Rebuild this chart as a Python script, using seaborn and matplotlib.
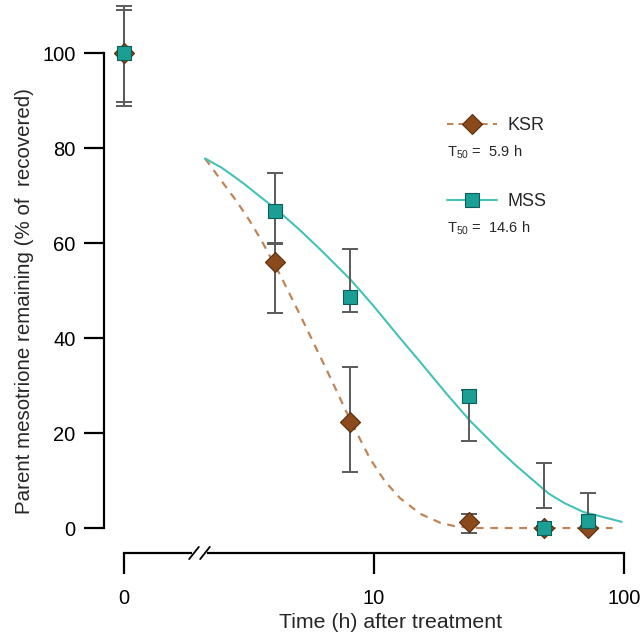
import numpy as np
import pandas as pd
import matplotlib
matplotlib.use("Agg")
import matplotlib.pyplot as plt
from matplotlib.lines import Line2D
import seaborn as sns

# ---------------- data ----------------
times = [0, 4, 8, 24, 48, 72]          # hours (0 h drawn at the axis origin "0")
ksr_mean = [100, 56, 22.3, 1.3, 0, 0]
ksr_err_low = [88.8, 45.3, 11.8, -1.0, -0.5, -0.5]
ksr_err_high = [109.9, 60.0, 34.0, 3.0, 0.5, 0.5]
mss_mean = [100, 66.8, 48.6, 27.8, 0, 1.5]
mss_err_low = [89.7, 59.8, 45.5, 18.3, 4.2, 0.0]
mss_err_high = [109.0, 74.7, 58.7, 29.0, 13.7, 7.4]

# fitted curves
ksr_fit_t = [2.11, 2.46, 2.82, 3.19, 3.55, 4.21, 4.75, 5.38, 5.90, 6.37, 6.98, 8.02,
             9.64, 11.07, 12.7, 15.3, 18.4, 21.4, 26, 40, 60, 90]
ksr_fit_y = [77.8, 73.0, 68.8, 64.6, 60.5, 53.3, 47.8, 42.0, 37.6, 34.0, 29.6, 22.8,
             14.6, 9.8, 6.3, 3.0, 1.1, 0.3, 0, 0, 0, 0]
mss_fit_t = [2.11, 2.45, 2.74, 3.05, 3.4, 3.8, 4.21, 5.06, 6.08, 8.02, 9.94, 12.7,
             15.0, 19.7, 24.2, 31.9, 36.7, 50.1, 58.0, 68.6, 97.9]
mss_fit_y = [77.8, 75.9, 74.1, 72.3, 70.3, 68.3, 66.4, 62.7, 58.7, 52.4, 46.8, 40.0,
             35.5, 28.0, 22.6, 16.3, 13.3, 7.2, 5.2, 3.4, 1.3]

series = ["KSR", "MSS"]
t50_labels = ["5.9 h", "14.6 h"]
x_tick_vals = [1, 10, 100]
x_tick_labels = ["0", "10", "100"]
y_ticks = [0, 20, 40, 60, 80, 100]

# ---------------- style ----------------
sns.set_style("ticks")
plt.rcParams["font.family"] = ["Liberation Sans", "DejaVu Sans"]
plt.rcParams["mathtext.fontset"] = "custom"
plt.rcParams["mathtext.rm"] = "Liberation Sans"

ksr_fill, ksr_edge, ksr_line = "#8a4a1c", "#5a2c0c", "#bf8558"
mss_fill, mss_edge, mss_line = "#1b9e94", "#0c5f58", "#45c2b6"
err_col = "#5a5a5a"

fig = plt.figure(figsize=(6.4, 6.38), dpi=100)
ax = fig.add_axes([104 / 640, (638 - 553) / 638, 535 / 640, 552 / 638])
ax.set_xscale("log")

plot_x = [1 if t == 0 else t for t in times]

df = pd.DataFrame({
    "x": plot_x * 2,
    "y": ksr_mean + mss_mean,
    "treatment": ["KSR"] * len(times) + ["MSS"] * len(times),
})
fit_ksr = pd.DataFrame({"t": ksr_fit_t, "y": ksr_fit_y})
fit_mss = pd.DataFrame({"t": mss_fit_t, "y": mss_fit_y})

# fitted curves
sns.lineplot(data=fit_ksr, x="t", y="y", ax=ax, color=ksr_line, lw=1.6,
             linestyle=(0, (3.5, 3.0)), sort=False, zorder=2)
sns.lineplot(data=fit_mss, x="t", y="y", ax=ax, color=mss_line, lw=1.5,
             sort=False, zorder=2)

# error bars
for lo, hi in [(ksr_err_low, ksr_err_high), (mss_err_low, mss_err_high)]:
    lo = np.array(lo); hi = np.array(hi)
    ax.errorbar(plot_x, (lo + hi) / 2, yerr=(hi - lo) / 2, fmt="none",
                ecolor=err_col, elinewidth=1.4, capsize=6, capthick=1.4, zorder=3)

# points
sns.scatterplot(data=df[df.treatment == "KSR"], x="x", y="y", ax=ax, marker="D",
                s=105, color=ksr_fill, edgecolor=ksr_edge, linewidth=0.8,
                zorder=4, clip_on=False, legend=False)
sns.scatterplot(data=df[df.treatment == "MSS"], x="x", y="y", ax=ax, marker="s",
                s=90, color=mss_fill, edgecolor=mss_edge, linewidth=0.8,
                zorder=5, clip_on=False, legend=False)

# axes
ax.set_xlim(10 ** -0.08, 10 ** 2.06)
ax.set_ylim(-5.26, 110.95)
ax.set_xticks(x_tick_vals)
ax.set_xticklabels(x_tick_labels)
ax.xaxis.set_minor_locator(matplotlib.ticker.NullLocator())
ax.set_yticks(y_ticks)
ax.spines["top"].set_visible(False)
ax.spines["right"].set_visible(False)
ax.spines["left"].set_bounds(0, 100)
ax.spines["bottom"].set_bounds(1, 100)
for s in ["left", "bottom"]:
    ax.spines[s].set_linewidth(1.6)
    ax.spines[s].set_color("black")
ax.tick_params(axis="y", length=14.5, width=1.6, labelsize=14.5, pad=6, colors="black")
ax.tick_params(axis="x", length=15, width=1.6, labelsize=14.5, pad=11, colors="black")

ax.set_xlabel("Time (h) after treatment", fontsize=15.3)
ax.set_ylabel("Parent mesotrione remaining (% of  recovered)", fontsize=14.8)
ax.xaxis.set_label_coords((391 - 104) / 535, (553 - 613) / 552)
ax.yaxis.set_label_coords((34 - 104) / 535, (553 - 301) / 552)

# axis break marks
tr = ax.transAxes
gx0, gx1 = (194 - 104) / 535, (205 - 104) / 535
ax.plot([gx0, gx1], [0, 0], color="white", lw=3, transform=tr, clip_on=False, zorder=6)
for gx in (gx0, gx1):
    ax.plot([gx - 0.009, gx + 0.009], [-0.011, 0.011], color="black", lw=1.3,
            transform=tr, clip_on=False, zorder=7)

# legend
handles = [
    Line2D([], [], color=ksr_line, linestyle=(0, (3.0, 2.5)), lw=1.5, marker="D",
           markersize=10.5, markerfacecolor=ksr_fill, markeredgecolor=ksr_edge,
           markeredgewidth=0.8),
    Line2D([], [], color=mss_line, lw=1.5, marker="s", markersize=9.5,
           markerfacecolor=mss_fill, markeredgecolor=mss_edge, markeredgewidth=0.8),
]
leg = ax.legend(handles, series, loc="upper left",
                bbox_to_anchor=((447 - 104) / 535, (553 - 117) / 552),
                frameon=False, fontsize=13, handlelength=2.75, handletextpad=0.6,
                labelspacing=3.27, borderpad=0, borderaxespad=0)
for lab, yy in zip(t50_labels, [152, 228]):
    ax.text((447 - 104) / 535, (553 - yy) / 552, r"T$_{50}$ =  " + lab,
            transform=tr, fontsize=10.5, va="center", ha="left")

fig.savefig("out.png", dpi=100)
